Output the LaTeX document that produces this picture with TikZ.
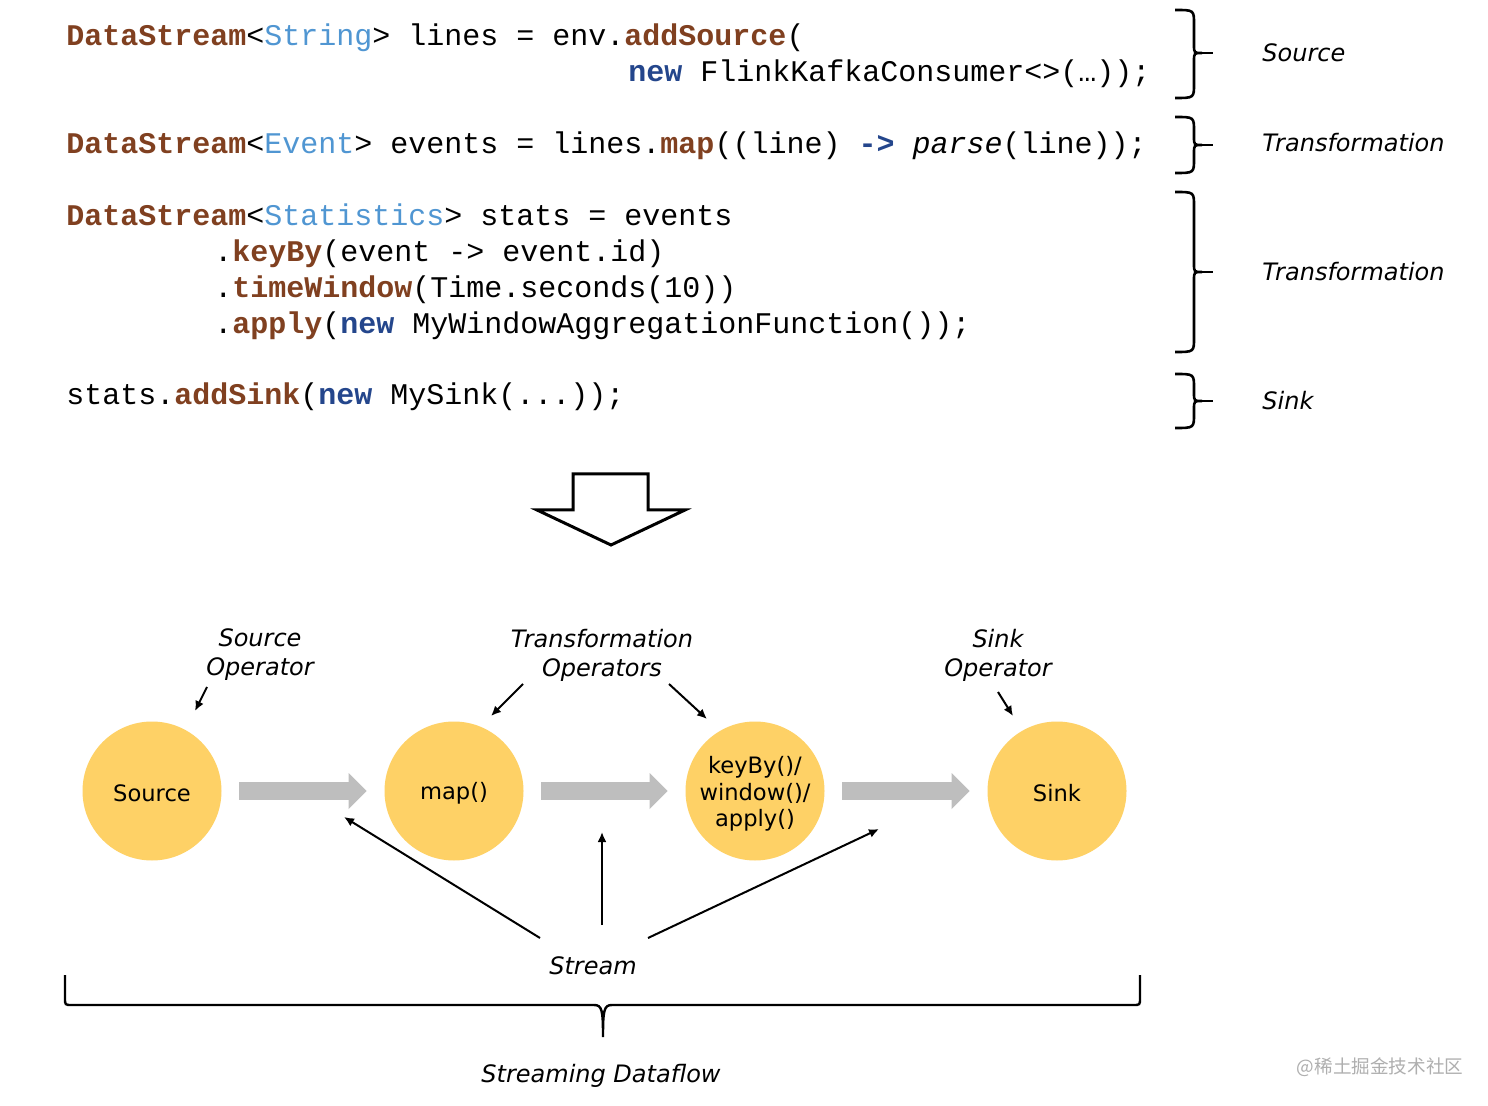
\documentclass[tikz,border=0pt]{standalone}
\usepackage{fontspec}
\setmainfont{DejaVu Sans}
\setmonofont{Liberation Mono}
\newfontfamily\cjkfont{Noto Sans CJK SC}
\usepackage{xcolor}
\usetikzlibrary{arrows.meta}
\definecolor{codebrown}{RGB}{128,64,32}
\definecolor{codetype}{RGB}{80,150,210}
\definecolor{codenew}{RGB}{36,70,140}
\definecolor{opfill}{RGB}{254,209,102}
\definecolor{flowgray}{RGB}{190,190,190}
\definecolor{wmgray}{RGB}{175,175,175}
\newcommand{\kw}[1]{\textcolor{codebrown}{\textbf{#1}}}
\newcommand{\ty}[1]{\textcolor{codetype}{#1}}
\newcommand{\nw}[1]{\textcolor{codenew}{\textbf{#1}}}
% top, bottom, middle
\newcommand{\codebrace}[3]{
\draw[brc] (1175,#1) .. controls (1194,#1) .. (1194,#1+14) -- (1194,#3-8) .. controls (1194,#3) .. (1202,#3) .. controls (1194,#3) .. (1194,#3+8) -- (1194,#2-14) .. controls (1194,#2) .. (1175,#2);
\draw[brc] (1202,#3) -- (1213,#3);
}

\begin{document}
\begin{tikzpicture}[x=0.5pt, y=-0.5pt,
    code/.style = {font=\ttfamily\fontsize{15}{18}\selectfont, anchor=base west, inner sep=0},
    lbl/.style = {font=\fontsize{12}{14.5}\selectfont\itshape, align=center, inner sep=0},
    op/.style = {circle, fill=opfill, minimum size=69.5pt, inner sep=0, align=center, font=\fontsize{11.3}{13.3}\selectfont},
    optext/.style = {inner sep=0, align=center, font=\fontsize{11.3}{13.3}\selectfont},
    flow/.style = {flowgray, line width=9pt, shorten <=8.75pt, shorten >=8.75pt, -{Triangle[length=9pt, width=18pt, line width=0pt]}},
    ptr/.style = {line width=1pt, -{Latex[length=5pt, width=4.5pt]}},
    brc/.style = {line width=1.3pt}]
    \useasboundingbox[fill=white] (0,0) rectangle (1488,1106);
    % Codice
    \node[code] (c1) at (66,46) {\kw{DataStream}<\ty{String}> lines = env.\kw{addSource}(};
    \node[code] (c2) at (628,82) {\nw{new} FlinkKafkaConsumer<>(…));};
    \node[code] (c3) at (66,154) {\kw{DataStream}<\ty{Event}> events = lines.\kw{map}((line) \nw{->} \textit{parse}(line));};
    \node[code] (c4) at (66,226) {\kw{DataStream}<\ty{Statistics}> stats = events};
    \node[code] (c5) at (214,262) {.\kw{keyBy}(event -> event.id)};
    \node[code] (c6) at (214,298) {.\kw{timeWindow}(Time.seconds(10))};
    \node[code] (c7) at (214,334) {.\kw{apply}(\nw{new} MyWindowAggregationFunction());};
    \node[code] (c8) at (66,405) {stats.\kw{addSink}(\nw{new} MySink(...));};
    % Graffe
    \codebrace{10}{98}{53}
    \codebrace{117}{173}{145}
    \codebrace{192}{352}{272}
    \codebrace{374}{428}{401}
    \node[lbl, anchor=base west] (rsrc) at (1262,62) {Source};
    \node[lbl, anchor=base west] (rtr1) at (1262,152) {Transformation};
    \node[lbl, anchor=base west] (rtr2) at (1262,281) {Transformation};
    \node[lbl, anchor=base west] (rsink) at (1262,410) {Sink};
    % Freccia
    \draw[line width=1.5pt, line join=miter] (573,474) -- (648,474) -- (648,510) -- (685,510) -- (611,545) -- (537,510) -- (573,510) -- cycle;
    % Operatori
    \node[op] (src) at (152,791) {};
    \node[op] (map) at (454,791) {};
    \node[op] (win) at (755,791) {};
    \node[op] (sink) at (1057,791) {};
    \node[optext] (srct) at (152,793) {Source};
    \node[optext] (mapt) at (454,793) {map()};
    \node[optext] (wint) at (755,794) {keyBy()/\\window()/\\apply()};
    \node[optext] (sinkt) at (1057,793) {Sink};
    \draw[flow] (src) -- (map);
    \draw[flow] (map) -- (win);
    \draw[flow] (win) -- (sink);
    % Etichette
    \node[lbl] (srclbl) at (260,655) {Source\\Operator};
    \node[lbl] (trlbl) at (602,655) {Transformation\\Operators};
    \node[lbl] (sinklbl) at (998,655) {Sink\\Operator};
    \node[lbl] (stream) at (593,966) {Stream};
    \node[lbl] (dataflow) at (601,1076) {Streaming Dataflow};
    \coordinate (a1) at (207,687); \coordinate (b1) at (195,711);
    \coordinate (a2) at (523,684); \coordinate (b2) at (491,716);
    \coordinate (a3) at (669,684); \coordinate (b3) at (707,719);
    \coordinate (a4) at (998,692); \coordinate (b4) at (1013,716);
    \draw[ptr] (a1) -- (b1);
    \draw[ptr] (a2) -- (b2);
    \draw[ptr] (a3) -- (b3);
    \draw[ptr] (a4) -- (b4);
    % Stream
    \coordinate (s1) at (540,938); \coordinate (t1) at (344,817);
    \coordinate (s2) at (602,925); \coordinate (t2) at (602,832);
    \coordinate (s3) at (648,938); \coordinate (t3) at (879,829);
    \draw[ptr] (s1) -- (t1);
    \draw[ptr] (s2) -- (t2);
    \draw[ptr] (s3) -- (t3);
    % Graffa sotto
    \draw[line width=1.2pt] (65,975) -- (65,998) .. controls (65,1005) .. (72,1005) -- (594,1005) .. controls (602,1005) and (603,1010) .. (603,1037) .. controls (603,1010) and (604,1005) .. (612,1005) -- (1133,1005) .. controls (1140,1005) .. (1140,998) -- (1140,975);
    \node[text=wmgray, font=\cjkfont\fontsize{9.3}{11}\selectfont] (wm) at (1380,1067) {@稀土掘金技术社区};
\end{tikzpicture}
\end{document}
